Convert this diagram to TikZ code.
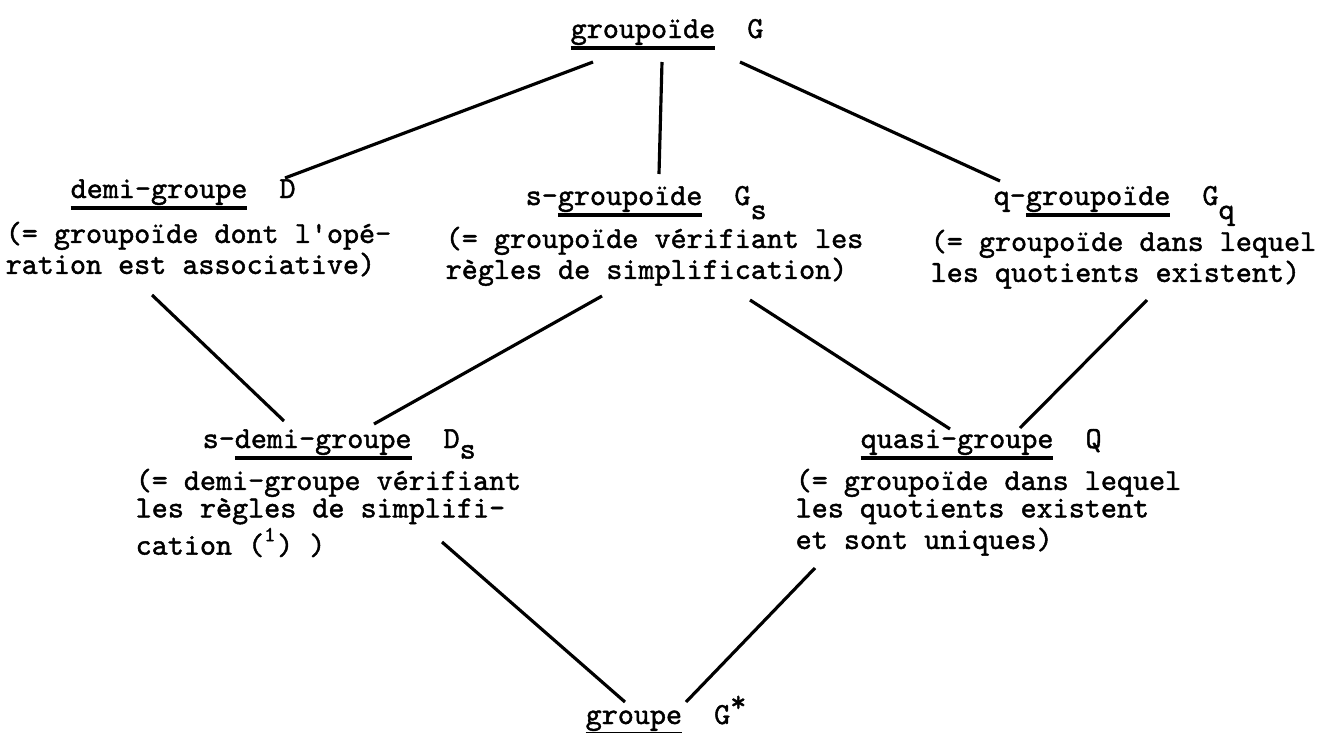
\documentclass[tikz,border=0pt]{standalone}
\usepackage{fontspec}
\usepackage{tikz}

\newfontfamily\machine{lmmono10-regular.otf}[FakeBold=1.4]
\newcommand\souligne[1]{\setbox0=\hbox{#1}\rlap{\rule[-3.4pt]{\wd0}{1pt}}\box0}
\newcommand\indice[2][4pt]{\raisebox{-#1}{#2}}

\begin{document}
\begin{tikzpicture}[
  x=0.01cm, y=-0.01cm,
  every node/.style={inner sep=0pt},
  titre/.style={anchor=base west, font=\machine\fontsize{8.7pt}{8.8pt}\selectfont},
  texte/.style={anchor=north west, align=left, font=\machine\fontsize{8.7pt}{8.8pt}\selectfont},
  serre/.style={font=\machine\fontsize{8.7pt}{7.8pt}\selectfont},
  trait/.style={line width=0.9pt}
]
\useasboundingbox (0,0) rectangle (1320,733);

% premier etage
\node[titre] (grp) at (570,38) {\souligne{groupoïde}~~G};

% deuxieme etage
\node[titre] (dg) at (70,198) {\souligne{demi-groupe}~~D};
\node[texte] (dgd) at (5,221) {(= groupoïde dont l\textquotesingle opé-\\ration est associative)};
\node[titre] (gs) at (525,205) {s-\souligne{groupoïde}~~G\indice{s}};
\node[texte] (gsd) at (445,226) {(= groupoïde vérifiant les\\règles de simplification)};
\node[titre] (gq) at (993,205) {q-\souligne{groupoïde}~~G\indice{q}};
\node[texte] (gqd) at (930,229) {(= groupoïde dans lequel\\les quotients existent)};

% troisieme etage
\node[titre] (sdg) at (202,448) {s-\souligne{demi-groupe}~~D\indice[3pt]{s}};
\node[texte, serre] (sdgd) at (135,468) {(= demi-groupe vérifiant\\les règles de simplifi-\\cation (\textsuperscript{1}) )};
\node[titre] (qg) at (860,448) {\souligne{quasi-groupe}~~Q};
\node[texte, serre] (qgd) at (795,468) {(= groupoïde dans lequel\\les quotients existent\\et sont uniques)};

% dernier etage
\node[titre] (grpe) at (585,724) {\souligne{groupe}~~G\raisebox{3.5pt}{*}};

\draw[trait] ([shift={(23,24)}]grp.base west) -- ([shift={(215,-20)}]dg.base west);
\draw[trait] ([shift={(92,24)}]grp.base west) -- ([shift={(134,-31)}]gs.base west);
\draw[trait] ([shift={(170,24)}]grp.base west) -- ([shift={(7,-24)}]gq.base west);

\draw[trait] ([shift={(147,74)}]dgd.north west) -- ([shift={(82,-27)}]sdg.base west);
\draw[trait] ([shift={(157,70)}]gsd.north west) -- ([shift={(172,-24)}]sdg.base west);
\draw[trait] ([shift={(305,74)}]gsd.north west) -- ([shift={(90,-19)}]qg.base west);
\draw[trait] ([shift={(217,71)}]gqd.north west) -- ([shift={(160,-20)}]qg.base west);

\draw[trait] ([shift={(307,74)}]sdgd.north west) -- ([shift={(40,-22)}]grpe.base west);
\draw[trait] ([shift={(20,100)}]qgd.north west) -- ([shift={(101,-22)}]grpe.base west);
\end{tikzpicture}
\end{document}
